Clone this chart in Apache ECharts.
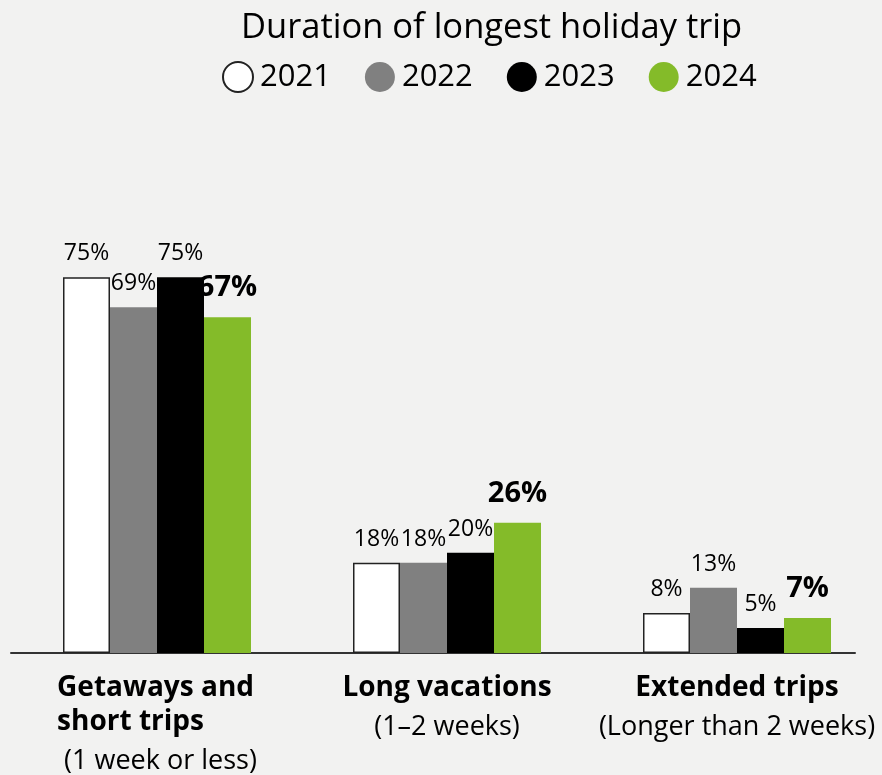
<!DOCTYPE html>
<html>
<head>
<meta charset="utf-8">
<script src="https://cdn.jsdelivr.net/npm/echarts@6/dist/echarts.min.js"></script>
<style>html,body{margin:0;padding:0;background:#f2f2f1;}#c{width:882px;height:775px;}</style>
</head>
<body>
<div id="c"></div>
<script>
const categories = ['Getaways and short trips', 'Long vacations', 'Extended trips'];
const subLabels = ['(1 week or less)', '(1–2 weeks)', '(Longer than 2 weeks)'];
const years = ['2021', '2022', '2023', '2024'];
const v2021 = [75, 18, 8];
const v2022 = [69, 18, 13];
const v2023 = [75, 20, 5];
const v2024 = [67, 26, 7];
const labels2021 = ['75%', '18%', '8%'];
const labels2022 = ['69%', '18%', '13%'];
const labels2023 = ['75%', '20%', '5%'];
const labels2024 = ['67%', '26%', '7%'];

const FONT = '"Open Sans", "Noto Sans", sans-serif';
const chart = echarts.init(document.getElementById('c'));

function mkSeries(name, values, labels, color, bold, border) {
  return {
    name: name, type: 'bar', data: values,
    barWidth: 47, barGap: '0%',
    itemStyle: border ? {color: color, borderColor: '#222', borderWidth: 1.5} : {color: color},
    label: {
      show: true, position: 'top', distance: bold ? 15 : 12,
      color: '#000', fontFamily: FONT,
      fontSize: bold ? 29 : 23, fontWeight: bold ? 'bold' : 'normal',
      formatter: p => labels[p.dataIndex]
    },
    emphasis: {disabled: true},
    animation: false
  };
}

chart.setOption({
  backgroundColor: '#f2f2f1',
  animation: false,
  title: {
    text: 'Duration of longest holiday trip',
    left: 236, top: 6,
    textStyle: {fontFamily: FONT, fontSize: 34.5, fontWeight: 'normal', color: '#000'}
  },
  legend: {
    data: years,
    left: 222, top: 61, padding: 0,
    icon: 'circle', itemWidth: 30, itemHeight: 32, itemGap: 34,
    textStyle: {fontFamily: FONT, fontSize: 31, color: '#000', padding: [0, 0, 0, 2]},
    selectedMode: false
  },
  grid: [
    {left: 12, width: 871, top: 152, bottom: 122},
    {left: 11, right: 27, top: 152, bottom: 122}
  ],
  xAxis: [
    {
      type: 'category', data: categories, gridIndex: 0,
      axisLine: {show: false}, axisTick: {show: false},
      axisLabel: {
        interval: 0, margin: 18,
        formatter: function (v, i) {
          if (i === 0) return '{b0|Getaways and}\n{b0|short trips}\n{s|' + ' ' + subLabels[i] + '}';
          return '{b|' + v + '}\n{s|' + subLabels[i] + '}';
        },
        rich: {
          b0: {fontFamily: FONT, fontSize: 28, fontWeight: 'bold', color: '#000', lineHeight: 34, width: 196, align: 'left'},
          b: {fontFamily: FONT, fontSize: 28, fontWeight: 'bold', color: '#000', lineHeight: 34},
          s: {fontFamily: FONT, fontSize: 27, color: '#000', lineHeight: 44}
        }
      }
    },
    {
      type: 'value', gridIndex: 1, min: 0, max: 1,
      axisLine: {show: true, onZero: false, lineStyle: {color: '#333', width: 2}},
      axisTick: {show: false}, axisLabel: {show: false}, splitLine: {show: false}
    }
  ],
  yAxis: [
    {type: 'value', min: 0, max: 100, gridIndex: 0, show: false},
    {type: 'value', min: 0, max: 1, gridIndex: 1, show: false}
  ],
  series: [
    mkSeries('2021', v2021, labels2021, '#ffffff', false, true),
    mkSeries('2022', v2022, labels2022, '#808080', false, false),
    mkSeries('2023', v2023, labels2023, '#000000', false, false),
    mkSeries('2024', v2024, labels2024, '#84bb29', true, false)
  ]
});
</script>
</body>
</html>
